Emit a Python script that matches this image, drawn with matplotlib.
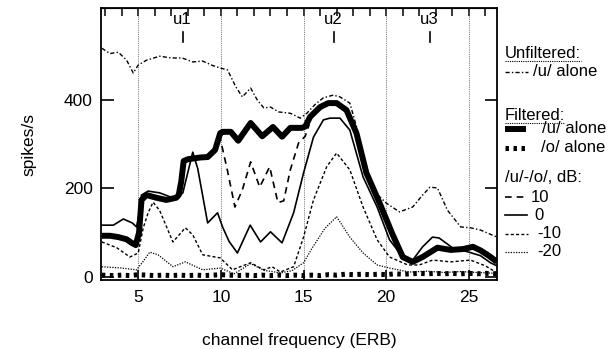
import matplotlib
matplotlib.use("Agg")
import matplotlib.pyplot as plt
from matplotlib.lines import Line2D

plt.rcParams['font.family'] = ['Liberation Sans', 'DejaVu Sans']
FS = 12.5

# ---- data (channel frequency in ERB, rate in spikes/s) ----
unf_x = [2.8, 3.3, 3.8, 4.3, 4.7, 5.0, 5.5, 6.3, 7.0, 7.66, 8.3, 8.9, 9.5, 10.0, 10.4,
         10.9, 11.3, 11.8, 12.2, 12.6, 13.0, 13.5, 14.2, 14.8, 15.2, 15.7, 16.2, 16.8,
         17.2, 17.8, 18.2, 18.6, 19.0, 19.5, 20.0, 20.8, 21.6, 22.2, 22.65, 23.1, 23.7,
         24.5, 25.1, 25.7, 26.2, 26.7]
unf_u = [517, 505, 508, 490, 461, 479, 490, 499, 495, 495, 486, 488, 478, 472, 468,
         430, 407, 427, 400, 382, 384, 373, 370, 359, 370, 390, 405, 411,
         407, 393, 340, 275, 212, 185, 167, 147, 158, 185, 203, 201, 151,
         113, 111, 106, 98, 90]

filt_x = [2.8, 3.3, 3.8, 4.3, 4.6, 4.85, 5.05, 5.2, 5.5, 6.1, 6.7, 7.3, 7.45, 7.6, 7.75,
          8.0, 8.75, 9.2, 9.65, 9.96, 10.1, 10.6, 11.05, 11.8, 12.5, 13.15, 13.7, 14.2,
          14.9, 15.1, 15.4, 16.0, 16.5, 17.0, 17.6, 18.2, 18.8, 19.6, 20.35, 21.0, 21.6,
          22.2, 23.1, 23.9, 24.65, 25.25, 25.7, 26.2, 26.7]
filt_u = [93, 93, 90, 85, 77, 72, 100, 174, 185, 179, 174, 179, 185, 215, 262,
          266, 270, 271, 287, 325, 328, 328, 308, 348, 318, 339, 317, 337,
          337, 340, 362, 384, 393, 393, 377, 325, 235, 167, 99, 45, 34,
          45, 66, 61, 63, 68, 60, 48, 34]

o_x = [2.8, 3.5, 4.0, 4.5, 5.0, 5.5, 6.0, 6.5, 7.0, 7.5, 8.0, 8.5, 9.0, 9.5, 10.0, 10.5,
       11.0, 11.5, 12.0, 12.5, 13.0, 13.5, 14.0, 14.5, 15.0, 15.5, 16.0, 16.5, 17.0,
       17.5, 18.0, 18.5, 19.0, 19.5, 20.0, 20.5, 21.0, 21.5, 22.0, 22.5, 23.0, 23.5,
       24.0, 24.5, 25.0, 25.5, 26.0, 26.7]
o_alone = [4, 3, 4, 3, 5, 4, 3, 4, 3, 4, 3, 4, 3, 4, 5, 4, 3, 4, 3, 4, 3, 4, 3, 4, 3,
           4, 3, 5, 4, 6, 5, 6, 5, 6, 5, 7, 6, 7, 8, 7, 8, 7, 8, 7, 8, 7, 8, 7]

# /u/-/o/ mixtures at several level differences
db10_x = [9.9, 10.1, 10.4, 10.85, 11.3, 11.8, 12.35, 12.95, 13.45, 13.8, 14.2, 14.7,
          15.1, 15.35]
db10 = [322, 290, 240, 158, 197, 260, 203, 249, 168, 172, 242, 303, 318, 345]

db0_x = [2.8, 3.5, 4.1, 4.64, 4.9, 5.05, 5.2, 5.6, 6.3, 7.0, 7.5, 7.7, 8.3, 8.6, 9.2,
         9.8, 10.1, 10.5, 11.0, 11.77, 12.4, 13.0, 13.7, 14.4, 15.0, 15.6, 16.2, 16.6,
         17.2, 17.8, 18.6, 19.45, 20.2, 21.0, 21.6, 22.2, 22.8, 23.2, 24.0, 25.0, 25.7,
         26.3, 26.7]
db0 = [117, 117, 131, 122, 113, 140, 185, 194, 190, 180, 183, 190, 282, 245, 122,
       145, 113, 80, 54, 117, 79, 102, 77, 145, 235, 316, 355, 359,
       359, 332, 226, 158, 84, 45, 38, 68, 90, 88, 66, 56, 48,
       32, 25]

dbm10_x = [2.8, 3.7, 4.5, 5.0, 5.3, 5.6, 5.9, 6.3, 7.1, 7.85, 8.3, 8.9, 9.96, 10.7,
           11.8, 12.6, 13.1, 13.6, 14.4, 15.0, 15.6, 16.4, 17.0, 17.8, 18.6, 19.45,
           20.2, 21.3, 22.0, 22.8, 23.9, 25.1, 26.0, 26.7]
dbm10 = [79, 66, 45, 54, 110, 145, 169, 150, 79, 111, 95, 50, 43, 16,
         32, 16, 23, 11, 23, 90, 174, 249, 280, 242, 158, 84,
         45, 27, 27, 38, 34, 38, 25, 9]

dbm20_x = [2.8, 4.0, 4.9, 5.3, 5.7, 6.2, 7.1, 7.85, 8.9, 9.96, 10.8, 11.8, 12.6, 13.6,
           14.3, 15.0, 15.6, 16.3, 17.0, 17.8, 18.6, 19.45, 20.2, 21.4, 22.5, 23.5,
           24.5, 25.5, 26.7]
dbm20 = [23, 20, 16, 35, 56, 50, 23, 34, 16, 20, 7, 30, 15, 9,
         14, 32, 70, 110, 136, 90, 54, 27, 20, 11, 13, 10, 12, 10, 8]

formant_pos = [7.7, 16.85, 22.65]
formant_names = ["u1", "u2", "u3"]

x_ticks = [5, 10, 15, 20, 25]
y_ticks = [0, 200, 400]

# ---- styles ----
sty_unf = dict(color='black', lw=1.0, linestyle=(0, (3, 1.6, 1, 1.6)))
sty_filt = dict(color='black', lw=4.3, solid_capstyle='butt', solid_joinstyle='round')
sty_o = dict(color='black', lw=3.6, linestyle=(0, (0.7, 0.9)), dash_capstyle='butt')
sty_10 = dict(color='black', lw=1.2, linestyle=(0, (4, 3)))
sty_0 = dict(color='black', lw=1.2, solid_joinstyle='round')
sty_m10 = dict(color='black', lw=1.0, linestyle=(0, (2.2, 1.6)))
sty_m20 = dict(color='black', lw=0.9, linestyle=(0, (1, 1.1)))

W, H = 613, 349
fig = plt.figure(figsize=(W / 100, H / 100), dpi=100)
ax = fig.add_axes([101 / W, 1 - 280 / H, (497 - 101) / W, (280 - 8) / H])

for xv in x_ticks:
    ax.axvline(xv, color='0.35', lw=0.6, linestyle=(0, (1, 1.2)), zorder=1)

ax.plot(unf_x, unf_u, **sty_unf, zorder=3)
ax.plot(dbm20_x, dbm20, **sty_m20, zorder=3)
ax.plot(dbm10_x, dbm10, **sty_m10, zorder=3)
ax.plot(db10_x, db10, **sty_10, zorder=3)
ax.plot(db0_x, db0, **sty_0, zorder=3)
ax.plot(filt_x, filt_u, **sty_filt, zorder=4)
ax.plot(o_x, o_alone, **sty_o, zorder=4)

ax.set_xlim(2.75, 26.7)
ax.set_ylim(-7, 608)
ax.set_xticks(x_ticks)
ax.set_yticks(y_ticks)
ax.tick_params(axis='both', direction='in', labelsize=FS, length=7, width=1.2)
ax.tick_params(axis='y', right=True, length=9, pad=6)
ax.tick_params(axis='x', pad=7)
for s in ax.spines.values():
    s.set_linewidth(1.3)

top = ax.secondary_xaxis('top')
top.set_xticks(range(3, 27))
top.tick_params(direction='in', length=6, width=1.1, labeltop=False)
top.set_xticklabels([])

ax.set_ylabel("spikes/s", fontsize=FS, labelpad=20)
ax.set_xlabel("channel frequency (ERB)", fontsize=FS, labelpad=20)

# formant markers
for xf, name in zip(formant_pos, formant_names):
    ax.text(xf - 0.05, 583, name, ha='center', va='center', fontsize=FS - 0.5)
    ax.plot([xf, xf], [530, 553], color='black', lw=1.2)

# ---- legend drawn in figure pixel coordinates ----
def fx(px):
    return px / W

def fy(py):
    return 1 - py / H

def heading(px, py, s):
    t = fig.text(fx(px), fy(py), s, fontsize=FS - 0.5, va='center', ha='left')
    fig.canvas.draw()
    bb = t.get_window_extent()
    fig.add_artist(Line2D([bb.x0 / W, bb.x1 / W], [fy(py + 8), fy(py + 8)],
                          transform=fig.transFigure, color='black', lw=0.8,
                          linestyle=(0, (1, 1))))

def entry(py, style, x1, tx, s):
    fig.add_artist(Line2D([fx(505), fx(x1)], [fy(py), fy(py)],
                          transform=fig.transFigure, **style))
    fig.text(fx(tx), fy(py), s, fontsize=FS - 0.5, va='center', ha='left')

heading(505, 53, "Unfiltered:")
entry(72, sty_unf, 528, 533, "/u/ alone")
heading(505, 115, "Filtered:")
entry(129, sty_filt, 526, 542, "/u/ alone")
entry(148, sty_o, 527, 541, "/o/ alone")
fig.text(fx(505), fy(178), "/u/-/o/, dB:", fontsize=FS - 0.5, va='center', ha='left')
entry(197, sty_10, 527, 531, "10")
entry(215, sty_0, 527, 534, "0")
entry(234, sty_m10, 528, 537, "-10")
entry(252, sty_m20, 528, 537, "-20")

fig.savefig("out.png", dpi=100)
